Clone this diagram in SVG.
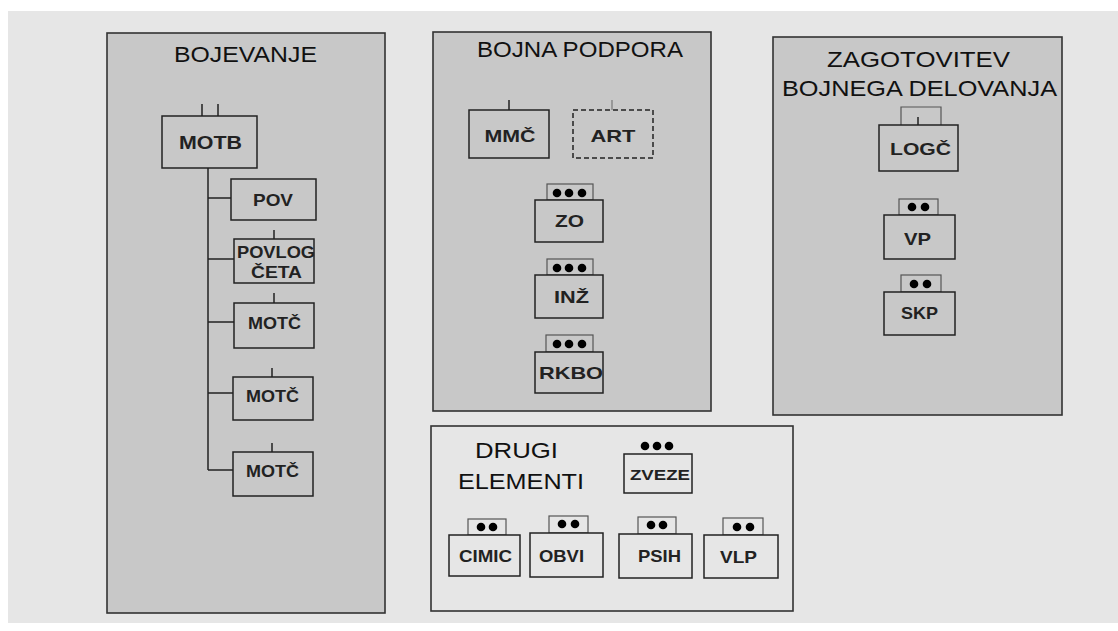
<svg xmlns="http://www.w3.org/2000/svg" width="1118" height="631" viewBox="0 0 1118 631">
<style>
.panel{fill:#c8c8c8;stroke:#333;stroke-width:1.6}
.box{fill:#c8c8c8;stroke:#222;stroke-width:1.5}
.tab{fill:#c8c8c8;stroke:#555;stroke-width:1.2}
.ttl{font-family:"Liberation Sans",Arial,sans-serif;font-size:22px;fill:#111}
.lbl{font-family:"Liberation Sans",Arial,sans-serif;font-weight:bold;font-size:17px;fill:#222;text-anchor:middle}
.ln{stroke:#222;stroke-width:1.5;fill:none}
.dot{fill:#000}
.lt{fill:#e6e6e6}
</style>
<rect x="0" y="0" width="1118" height="631" fill="#fff"/>
<rect x="8" y="11" width="1110" height="612" fill="#e6e6e6"/>

<g id="panel-bojevanje">
<rect class="panel" x="107" y="33" width="278" height="580"/>
<text class="ttl" x="174" y="62" textLength="143" lengthAdjust="spacingAndGlyphs">BOJEVANJE</text>
</g>
<g id="panel-bojna-podpora">
<rect class="panel" x="433" y="32" width="278" height="379"/>
<text class="ttl" x="477" y="57" textLength="206" lengthAdjust="spacingAndGlyphs">BOJNA PODPORA</text>
</g>
<g id="panel-zagotovitev">
<rect class="panel" x="773" y="37" width="289" height="378"/>
<text class="ttl" x="827" y="67" textLength="183" lengthAdjust="spacingAndGlyphs">ZAGOTOVITEV</text>
<text class="ttl" x="782" y="96" textLength="275" lengthAdjust="spacingAndGlyphs">BOJNEGA DELOVANJA</text>
</g>
<g id="panel-drugi">
<rect class="panel lt" x="431" y="426" width="362" height="185" style="fill:#e6e6e6"/>
<text class="ttl" x="475" y="458" textLength="83" lengthAdjust="spacingAndGlyphs">DRUGI</text>
<text class="ttl" x="458" y="489" textLength="126" lengthAdjust="spacingAndGlyphs">ELEMENTI</text>
</g>

<g id="connectors">
<line class="ln" x1="202" y1="104" x2="202" y2="116"/>
<line class="ln" x1="218" y1="104" x2="218" y2="116"/>
<line class="ln" x1="208" y1="168" x2="208" y2="470"/>
<line class="ln" x1="208" y1="198" x2="231" y2="198"/>
<line class="ln" x1="208" y1="259" x2="234" y2="259"/>
<line class="ln" x1="208" y1="322" x2="234" y2="322"/>
<line class="ln" x1="208" y1="393" x2="233" y2="393"/>
<line class="ln" x1="208" y1="470" x2="233" y2="470"/>
<line class="ln" x1="274" y1="230" x2="274" y2="239"/>
<line class="ln" x1="274" y1="293" x2="274" y2="303"/>
<line class="ln" x1="272" y1="368" x2="272" y2="377"/>
<line class="ln" x1="272" y1="443" x2="272" y2="452"/>
<line class="ln" x1="509" y1="100" x2="509" y2="110"/>
<line x1="612" y1="100" x2="612" y2="110" stroke="#777" stroke-width="1.2"/>
<line class="ln" x1="918" y1="117" x2="918" y2="125"/>
</g>

<g id="node-motb">
<rect class="box" x="162" y="116" width="95" height="52"/>
<text class="lbl" x="210.5" y="149" style="font-size:19px" textLength="63" lengthAdjust="spacingAndGlyphs">MOTB</text>
</g>
<g id="node-pov">
<rect class="box" x="231" y="179" width="85" height="41"/>
<text class="lbl" x="273" y="206" textLength="40" lengthAdjust="spacingAndGlyphs">POV</text>
</g>
<g id="node-povlog">
<rect class="box" x="234" y="239" width="80" height="44"/>
<text class="lbl" x="276" y="258" textLength="78" lengthAdjust="spacingAndGlyphs">POVLOG</text>
<text class="lbl" x="276.5" y="278" textLength="51" lengthAdjust="spacingAndGlyphs">ČETA</text>
</g>
<g id="node-motc1">
<rect class="box" x="234" y="303" width="80" height="45"/>
<text class="lbl" x="274.5" y="329" textLength="53" lengthAdjust="spacingAndGlyphs">MOTČ</text>
</g>
<g id="node-motc2">
<rect class="box" x="233" y="377" width="80" height="43"/>
<text class="lbl" x="272.5" y="402" textLength="53" lengthAdjust="spacingAndGlyphs">MOTČ</text>
</g>
<g id="node-motc3">
<rect class="box" x="233" y="452" width="80" height="44"/>
<text class="lbl" x="272.5" y="477" textLength="53" lengthAdjust="spacingAndGlyphs">MOTČ</text>
</g>

<g id="node-mmc">
<rect class="box" x="469" y="110" width="80" height="48"/>
<text class="lbl" x="510" y="142" textLength="51" lengthAdjust="spacingAndGlyphs">MMČ</text>
</g>
<g id="node-art">
<rect class="box" x="573" y="110" width="80" height="48" stroke-dasharray="5,3"/>
<text class="lbl" x="613" y="142" textLength="45" lengthAdjust="spacingAndGlyphs">ART</text>
</g>
<g id="node-zo">
<rect class="tab" x="547" y="184" width="46" height="16"/>
<circle class="dot" cx="557" cy="193" r="4.3"/><circle class="dot" cx="569" cy="193" r="4.3"/><circle class="dot" cx="582" cy="193" r="4.3"/>
<rect class="box" x="535" y="200" width="68" height="42"/>
<text class="lbl" x="569.5" y="227" textLength="29" lengthAdjust="spacingAndGlyphs">ZO</text>
</g>
<g id="node-inz">
<rect class="tab" x="547" y="259" width="46" height="16"/>
<circle class="dot" cx="557" cy="268" r="4.3"/><circle class="dot" cx="569" cy="268" r="4.3"/><circle class="dot" cx="582" cy="268" r="4.3"/>
<rect class="box" x="535" y="275" width="68" height="43"/>
<text class="lbl" x="571.5" y="303" textLength="35" lengthAdjust="spacingAndGlyphs">INŽ</text>
</g>
<g id="node-rkbo">
<rect class="tab" x="546" y="335" width="47" height="17"/>
<circle class="dot" cx="557" cy="344" r="4.3"/><circle class="dot" cx="569" cy="344" r="4.3"/><circle class="dot" cx="582" cy="344" r="4.3"/>
<rect class="box" x="535" y="352" width="68" height="41"/>
<text class="lbl" x="571" y="379" textLength="64" lengthAdjust="spacingAndGlyphs">RKBO</text>
</g>

<g id="node-logc">
<path d="M901 125 V107 H941 V125" stroke="#555" stroke-width="1.2" fill="none"/>
<rect class="box" x="879" y="125" width="79" height="46"/>
<text class="lbl" x="920.5" y="155" textLength="61" lengthAdjust="spacingAndGlyphs">LOGČ</text>
</g>
<g id="node-vp">
<rect class="tab" x="899" y="199" width="39" height="16"/>
<circle class="dot" cx="912" cy="207" r="4.3"/><circle class="dot" cx="925" cy="207" r="4.3"/>
<rect class="box" x="884" y="215" width="71" height="44"/>
<text class="lbl" x="917.5" y="245" textLength="27" lengthAdjust="spacingAndGlyphs">VP</text>
</g>
<g id="node-skp">
<rect class="tab" x="901" y="275" width="40" height="17"/>
<circle class="dot" cx="914" cy="284" r="4.3"/><circle class="dot" cx="927" cy="284" r="4.3"/>
<rect class="box" x="884" y="292" width="71" height="43"/>
<text class="lbl" x="919.5" y="319" textLength="37" lengthAdjust="spacingAndGlyphs">SKP</text>
</g>

<g id="node-zveze">
<circle class="dot" cx="645" cy="446" r="4.3"/><circle class="dot" cx="657" cy="446" r="4.3"/><circle class="dot" cx="669" cy="446" r="4.3"/>
<rect class="box" x="624" y="454" width="68" height="39" style="fill:#e6e6e6"/>
<text class="lbl" x="660" y="480" style="font-size:15px" textLength="60" lengthAdjust="spacingAndGlyphs">ZVEZE</text>
</g>
<g id="node-cimic">
<rect class="tab" x="468" y="519" width="38" height="16" style="fill:#e6e6e6"/>
<circle class="dot" cx="481" cy="527" r="4.3"/><circle class="dot" cx="493" cy="527" r="4.3"/>
<rect class="box" x="449" y="535" width="71" height="41" style="fill:#e6e6e6"/>
<text class="lbl" x="485.5" y="562" textLength="53" lengthAdjust="spacingAndGlyphs">CIMIC</text>
</g>
<g id="node-obvi">
<rect class="tab" x="549" y="516" width="39" height="17" style="fill:#e6e6e6"/>
<circle class="dot" cx="562" cy="524" r="4.3"/><circle class="dot" cx="575" cy="524" r="4.3"/>
<rect class="box" x="530" y="533" width="73" height="44" style="fill:#e6e6e6"/>
<text class="lbl" x="561.5" y="562" textLength="45" lengthAdjust="spacingAndGlyphs">OBVI</text>
</g>
<g id="node-psih">
<rect class="tab" x="638" y="517" width="38" height="17" style="fill:#e6e6e6"/>
<circle class="dot" cx="651" cy="525" r="4.3"/><circle class="dot" cx="663" cy="525" r="4.3"/>
<rect class="box" x="619" y="534" width="73" height="44" style="fill:#e6e6e6"/>
<text class="lbl" x="659.5" y="562" textLength="43" lengthAdjust="spacingAndGlyphs">PSIH</text>
</g>
<g id="node-vlp">
<rect class="tab" x="723" y="518" width="40" height="17" style="fill:#e6e6e6"/>
<circle class="dot" cx="737" cy="527" r="4.3"/><circle class="dot" cx="750" cy="527" r="4.3"/>
<rect class="box" x="704" y="535" width="74" height="43" style="fill:#e6e6e6"/>
<text class="lbl" x="738.5" y="563" textLength="37" lengthAdjust="spacingAndGlyphs">VLP</text>
</g>
</svg>
